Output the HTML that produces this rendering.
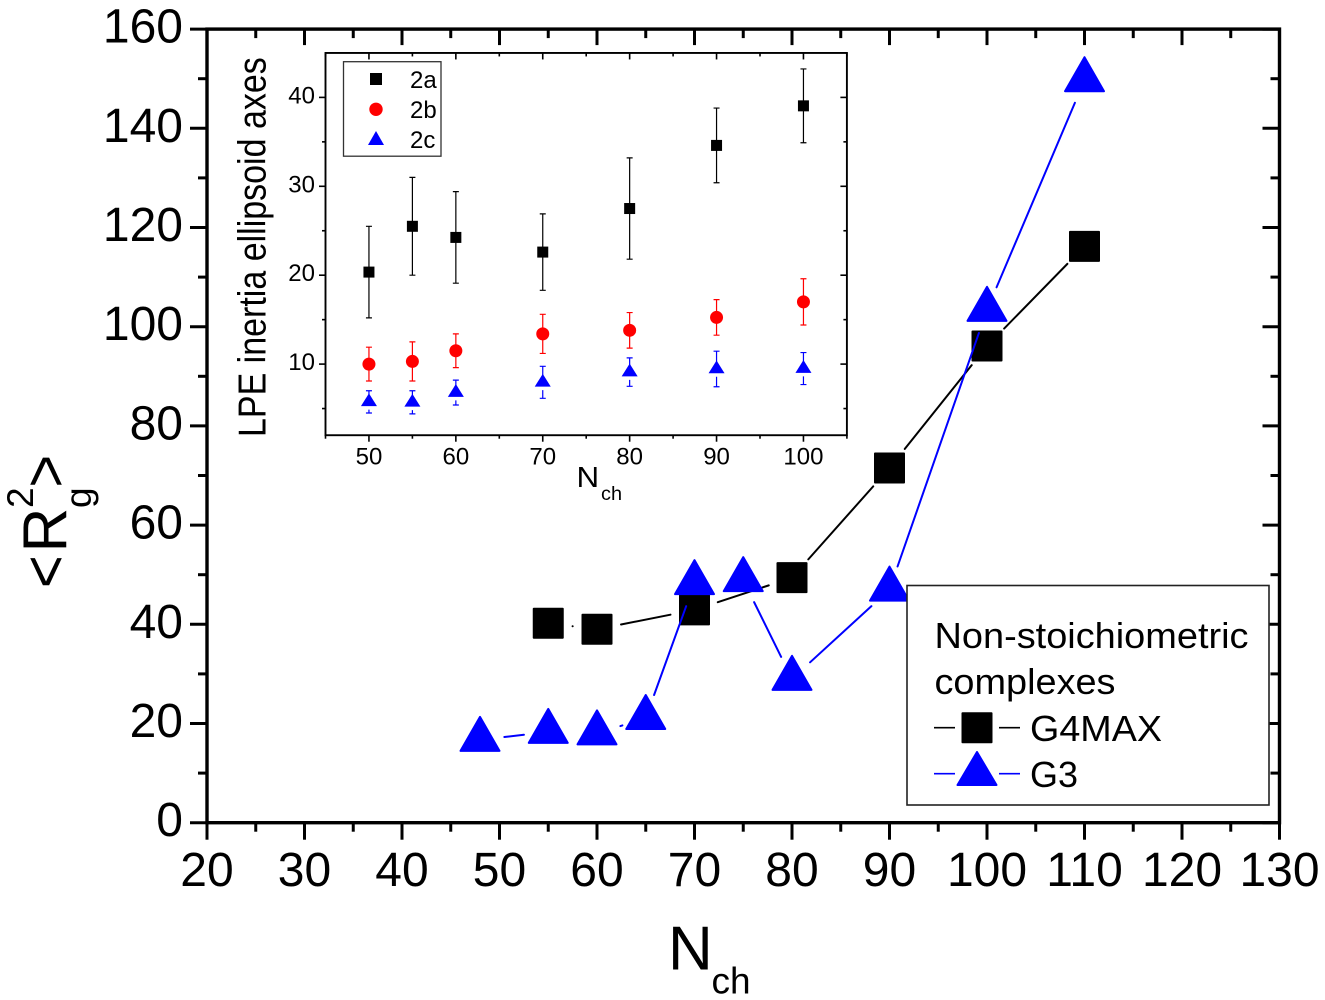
<!DOCTYPE html>
<html lang="en">
<head>
<meta charset="utf-8">
<title>Radius of gyration vs chain length</title>
<style>
html,body{margin:0;padding:0;background:#fff;}
svg{display:block;font-family:"Liberation Sans",Arial,sans-serif;}
</style>
</head>
<body>
<svg id="chart" xmlns="http://www.w3.org/2000/svg" width="1325" height="1000" viewBox="0 0 1325 1000"></svg>
<script>
// ---------- main plot data ----------
const mainXTickLabels = [20,30,40,50,60,70,80,90,100,110,120,130];
const mainYTickLabels = [0,20,40,60,80,100,120,140,160];
const g4maxN = [55,60,70,80,90,100,110];
const g4maxR2 = [40.2,39.0,42.9,49.4,71.5,96.1,116.2];
const g3N = [48,55,60,65,70,75,80,90,100,110];
const g3R2 = [16.7,18.3,18.0,21.1,48.3,48.9,29.0,47.0,103.4,149.7];

// ---------- inset data ----------
const insetN = [50,55,60,70,80,90,100];
const insetXTickLabels = [50,60,70,80,90,100];
const insetYTickLabels = [10,20,30,40];
const axis2a = [20.35,25.5,24.25,22.6,27.5,34.6,39.05];
const err2a = [5.15,5.5,5.15,4.3,5.7,4.2,4.15];
const axis2b = [10.0,10.3,11.5,13.4,13.8,15.25,17.0];
const err2b = [1.9,2.2,1.9,2.2,2.0,2.0,2.6];
const axis2c = [5.75,5.7,6.8,7.95,9.1,9.45,9.5];
const err2c = [1.25,1.3,1.4,1.8,1.6,2.0,1.8];

// ---------- axis functions ----------
const X = v => 207 + (v - 20) * 9.75;
const Y = v => 822.7 - v * 4.96;
const IX = v => 325.5 + (v - 45) * 8.69;
const IY = v => 453 - v * 8.89;

const NS = 'http://www.w3.org/2000/svg';
const svg = document.getElementById('chart');
function mk(parent, tag, attrs, txt) {
  const e = document.createElementNS(NS, tag);
  for (const k in attrs) e.setAttribute(k, attrs[k]);
  if (txt !== undefined) e.textContent = txt;
  parent.appendChild(e);
  return e;
}
function group(parent, name) {
  const g = mk(parent, 'g', {});
  
  
  return g;
}
function tickLine(parent, x1, y1, x2, y2, w, name) {
  const l = mk(parent, 'line', {x1, y1, x2, y2, stroke: '#000', 'stroke-width': w});
  
  
  return l;
}
function label(parent, x, y, str, size, anchor, name) {
  const t = mk(parent, 'text', {x, y, 'font-size': size, 'text-anchor': anchor, fill: '#000'}, str);
  
  
  return t;
}
function fitted(parent, x, y, str, size, len, name) {
  const t = mk(parent, 'text', {x, y, 'font-size': size, textLength: len, lengthAdjust: 'spacingAndGlyphs', fill: '#000'}, str);
  
  
  return t;
}
function triPoints(cx, cy, up, down, half) {
  return (cx - half) + ',' + (cy + down) + ' ' + (cx + half) + ',' + (cy + down) + ' ' + cx + ',' + (cy - up);
}
function gapLine(parent, x1, y1, x2, y2, gap, color, name) {
  const d = Math.hypot(x2 - x1, y2 - y1);
  if (d <= 2 * gap) return;
  const ux = (x2 - x1) / d, uy = (y2 - y1) / d;
  const l = mk(parent, 'line', {x1: x1 + ux * gap, y1: y1 + uy * gap, x2: x2 - ux * gap, y2: y2 - uy * gap,
    stroke: color, 'stroke-width': 2, 'stroke-linecap': 'round'});
  
  
}

// ---------- main axes ----------
const mainAxes = group(svg, 'main-axes');
const minX0 = mainXTickLabels[0], maxX0 = mainXTickLabels[mainXTickLabels.length - 1];
const minY0 = mainYTickLabels[0], maxY0 = mainYTickLabels[mainYTickLabels.length - 1];
mainXTickLabels.forEach((v, i) => {
  tickLine(mainAxes, X(v), Y(minY0), X(v), Y(minY0) + 17, 3, 'x-major-tick');
  tickLine(mainAxes, X(v), Y(maxY0), X(v), Y(maxY0) + 16, 3, 'x-top-major-tick');
  label(mainAxes, X(v), 886, String(v), 48, 'middle', 'x-tick-label');
  if (i < mainXTickLabels.length - 1) {
    const m = v + 5;
    tickLine(mainAxes, X(m), Y(minY0), X(m), Y(minY0) + 9, 3, 'x-minor-tick');
    tickLine(mainAxes, X(m), Y(maxY0), X(m), Y(maxY0) + 9, 3, 'x-top-minor-tick');
  }
});
mainYTickLabels.forEach((v, i) => {
  tickLine(mainAxes, X(minX0) - 17, Y(v), X(minX0), Y(v), 3, 'y-major-tick');
  tickLine(mainAxes, X(maxX0) - 17, Y(v), X(maxX0), Y(v), 3, 'y-right-major-tick');
  label(mainAxes, 183, Y(v) + 13.5, String(v), 48, 'end', 'y-tick-label');
  if (i < mainYTickLabels.length - 1) {
    const m = v + 10;
    tickLine(mainAxes, X(minX0) - 9, Y(m), X(minX0), Y(m), 3, 'y-minor-tick');
    tickLine(mainAxes, X(maxX0) - 9, Y(m), X(maxX0), Y(m), 3, 'y-right-minor-tick');
  }
});
const mainFrame = mk(mainAxes, 'rect', {x: X(minX0), y: Y(maxY0), width: X(maxX0) - X(minX0), height: Y(minY0) - Y(maxY0), fill: 'none', stroke: '#000', 'stroke-width': 3.4});



// ---------- main axis titles ----------
const xTitle = group(svg, 'x-axis-title');
label(xTitle, 668, 969.5, 'N', 62, 'start', 'x-title-n');
label(xTitle, 711.5, 993.5, 'ch', 37, 'start', 'x-title-subscript');

const yTitle = group(svg, 'y-axis-title');
function rotText(parent, x, y, str, size, sx, name) {
  const t = mk(parent, 'text', {transform: 'translate(' + x + ',' + y + ') rotate(-90) scale(' + sx + ',1)', 'font-size': size, fill: '#000'}, str);
  
  
  return t;
}
rotText(yTitle, 66.5, 588, '<', 62, 0.9, 'y-title-open-bracket');
rotText(yTitle, 66.5, 552.5, 'R', 62, 1, 'y-title-r');
rotText(yTitle, 33, 508, '2', 37, 1, 'y-title-superscript');
rotText(yTitle, 91, 508, 'g', 37, 1, 'y-title-subscript');
rotText(yTitle, 66.5, 487.5, '>', 62, 0.9, 'y-title-close-bracket');

// ---------- main series ----------
const g4Series = group(svg, 'series-g4max');
g4maxN.forEach((n, i) => {
  if (i > 0) gapLine(g4Series, X(g4maxN[i - 1]), Y(g4maxR2[i - 1]), X(n), Y(g4maxR2[i]), 24.5, '#000', 'g4max-line-segment');
});
g4maxN.forEach((n, i) => {
  const r = mk(g4Series, 'rect', {x: X(n) - 15.5, y: Y(g4maxR2[i]) - 15.5, width: 31, height: 31, rx: 1, fill: '#000'});
  
  
});
const g3Series = group(svg, 'series-g3');
g3N.forEach((n, i) => {
  if (i > 0) gapLine(g3Series, X(g3N[i - 1]), Y(g3R2[i - 1]), X(n), Y(g3R2[i]), 24.5, '#0000ff', 'g3-line-segment');
});
g3N.forEach((n, i) => {
  const p = mk(g3Series, 'polygon', {points: triPoints(X(n), Y(g3R2[i]), 23, 11, 19.5), fill: '#0000ff', stroke: '#0000ff', 'stroke-width': 2, 'stroke-linejoin': 'round'});
  
  
});

// ---------- main legend ----------
const legend = group(svg, 'main-legend');
const legendBox = mk(legend, 'rect', {x: 907, y: 585.5, width: 362, height: 219.5, fill: '#fff', stroke: '#222', 'stroke-width': 1.6});


fitted(legend, 934.5, 648, 'Non-stoichiometric', 36.5, 314, 'legend-title-line-1');
fitted(legend, 934.5, 694, 'complexes', 36.5, 181, 'legend-title-line-2');
fitted(legend, 1030, 741, 'G4MAX', 36.5, 132, 'legend-label-g4max');
fitted(legend, 1030, 787, 'G3', 36.5, 48, 'legend-label-g3');
[[934, 955], [999, 1020]].forEach(seg => {
  const a = mk(legend, 'line', {x1: seg[0], y1: 727.7, x2: seg[1], y2: 727.7, stroke: '#000', 'stroke-width': 1.6});
  
  
  const b = mk(legend, 'line', {x1: seg[0], y1: 773.7, x2: seg[1], y2: 773.7, stroke: '#0000ff', 'stroke-width': 1.6});
  
  
});
const legSq = mk(legend, 'rect', {x: 961.5, y: 712.3, width: 31, height: 31, rx: 1, fill: '#000'});


const legTri = mk(legend, 'polygon', {points: triPoints(977, 775, 23, 10, 19.5), fill: '#0000ff', stroke: '#0000ff', 'stroke-width': 2, 'stroke-linejoin': 'round'});



// ---------- inset axes ----------
const inset = group(svg, 'inset-chart');
const insetAxes = group(inset, 'inset-axes');
const iXMin = 45, iXMax = 105, iYMin = 2, iYMax = 45;
insetXTickLabels.forEach(v => {
  tickLine(insetAxes, IX(v), IY(iYMin), IX(v), IY(iYMin) + 6.5, 1.6, 'inset-x-major-tick');
  tickLine(insetAxes, IX(v), IY(iYMax), IX(v), IY(iYMax) + 6.5, 1.6, 'inset-x-top-major-tick');
  label(insetAxes, IX(v), 464.5, String(v), 24, 'middle', 'inset-x-tick-label');
});
[45,55,65,75,85,95,105].forEach(v => {
  tickLine(insetAxes, IX(v), IY(iYMin), IX(v), IY(iYMin) + 3.5, 1.6, 'inset-x-minor-tick');
  tickLine(insetAxes, IX(v), IY(iYMax), IX(v), IY(iYMax) + 3.5, 1.6, 'inset-x-top-minor-tick');
});
insetYTickLabels.forEach(v => {
  tickLine(insetAxes, IX(iXMin) - 6.5, IY(v), IX(iXMin), IY(v), 1.6, 'inset-y-major-tick');
  tickLine(insetAxes, IX(iXMax) - 6.5, IY(v), IX(iXMax), IY(v), 1.6, 'inset-y-right-major-tick');
  label(insetAxes, 315, IY(v) + 6, String(v), 24, 'end', 'inset-y-tick-label');
});
[5,15,25,35].forEach(v => {
  tickLine(insetAxes, IX(iXMin) - 3.5, IY(v), IX(iXMin), IY(v), 1.6, 'inset-y-minor-tick');
  tickLine(insetAxes, IX(iXMax) - 3.5, IY(v), IX(iXMax), IY(v), 1.6, 'inset-y-right-minor-tick');
});
const insetFrame = mk(insetAxes, 'rect', {x: IX(iXMin), y: IY(iYMax), width: IX(iXMax) - IX(iXMin), height: IY(iYMin) - IY(iYMax), fill: 'none', stroke: '#000', 'stroke-width': 1.9});



const insetYTitle = mk(inset, 'text', {transform: 'translate(265.5,437) rotate(-90) scale(1,1.15)', 'font-size': 34, fill: '#000'}, 'LPE inertia ellipsoid axes');


const insetXTitle = group(inset, 'inset-x-axis-title');
const insetN1 = mk(insetXTitle, 'text', {transform: 'translate(576.5,487) scale(1.08,1)', 'font-size': 29, fill: '#000'}, 'N');


const insetN2 = mk(insetXTitle, 'text', {transform: 'translate(601,500) scale(1.05,1)', 'font-size': 19, fill: '#000'}, 'ch');



// ---------- inset series ----------
function errBars(parent, vals, errs, color, name) {
  insetN.forEach((n, i) => {
    const hi = IY(vals[i] + errs[i]), lo = IY(vals[i] - errs[i]), x = IX(n);
    const b = mk(parent, 'path', {d: 'M' + x + ' ' + hi + 'V' + lo + 'M' + (x - 3) + ' ' + hi + 'H' + (x + 3) + 'M' + (x - 3) + ' ' + lo + 'H' + (x + 3), fill: 'none', stroke: color, 'stroke-width': 1.2});
    
    
  });
}
const s2a = group(inset, 'series-2a');
errBars(s2a, axis2a, err2a, '#000', 'error-bar-2a');
insetN.forEach((n, i) => {
  const r = mk(s2a, 'rect', {x: IX(n) - 5.5, y: IY(axis2a[i]) - 5.5, width: 11, height: 11, fill: '#000'});
  
  
});
const s2b = group(inset, 'series-2b');
errBars(s2b, axis2b, err2b, '#ff0000', 'error-bar-2b');
insetN.forEach((n, i) => {
  const c = mk(s2b, 'circle', {cx: IX(n), cy: IY(axis2b[i]), r: 6.5, fill: '#ff0000'});
  
  
});
const s2c = group(inset, 'series-2c');
errBars(s2c, axis2c, err2c, '#0000ff', 'error-bar-2c');
insetN.forEach((n, i) => {
  const cy = IY(axis2c[i]);
  const h = mk(s2c, 'polygon', {points: triPoints(IX(n), cy + 3.5, 8.5, 4.3, 8), fill: '#fff'});
  
  
  const p = mk(s2c, 'polygon', {points: triPoints(IX(n), cy, 8.5, 4.3, 8), fill: '#0000ff'});
  
  
});

// ---------- inset legend ----------
const insetLegend = group(inset, 'inset-legend');
const ilBox = mk(insetLegend, 'rect', {x: 343.5, y: 61.7, width: 97.5, height: 94.5, fill: '#fff', stroke: '#333', 'stroke-width': 1.3});


const il1 = mk(insetLegend, 'rect', {x: 370, y: 73, width: 12, height: 12, fill: '#000'});


const il2 = mk(insetLegend, 'circle', {cx: 376, cy: 109.3, r: 6.7, fill: '#ff0000'});


const il3 = mk(insetLegend, 'polygon', {points: triPoints(376, 140.3, 9.3, 4.7, 8), fill: '#0000ff'});


label(insetLegend, 410, 88, '2a', 24, 'start', 'inset-legend-label-2a');
label(insetLegend, 410, 118, '2b', 24, 'start', 'inset-legend-label-2b');
label(insetLegend, 410, 148, '2c', 24, 'start', 'inset-legend-label-2c');
</script>
</body>
</html>
